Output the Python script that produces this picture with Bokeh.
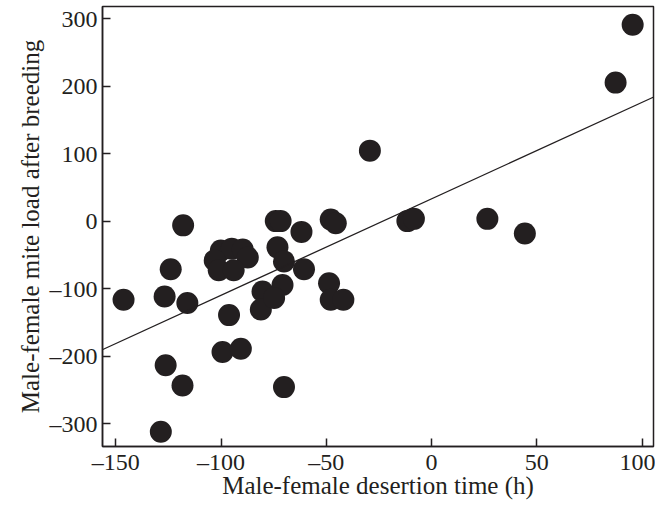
from bokeh.plotting import figure
from bokeh.models import Slope, FixedTicker, Range1d
from bokeh.embed import file_html
from bokeh.resources import INLINE

# Data
desertion_time = [95.5, 87.4, -29.3, 26.5, 44.3, -11.5, -8.4, -47.9, -45.5, -61.8,
                  -74.0, -71.7, -73.2, -70.1, -60.6, -118.0, -123.9, -126.8, -116.0, -146.3,
                  -96.2, -100.1, -94.9, -89.7, -87.3, -103.0, -101.1, -94.0,
                  -80.3, -81.1, -70.8, -74.8, -48.7, -47.9, -41.9,
                  -99.3, -90.6, -126.3, -118.3, -70.1, -128.6]
mite_load = [291.1, 205.2, 104.4, 3.3, -18.5, 0.0, 3.3, 2.5, -3.3, -16.0,
             0.0, 0.0, -38.9, -59.7, -71.3, -6.3, -71.3, -111.6, -121.3, -116.4,
             -139.3, -43.7, -40.8, -42.2, -53.9, -58.2, -72.8, -72.8,
             -104.4, -131.0, -94.6, -114.0, -92.1, -116.4, -116.4,
             -194.0, -189.2, -213.5, -243.5, -246.0, -312.0]

fit_gradient = 1.43
fit_intercept = 33.0

x_ticks = [-150, -100, -50, 0, 50, 100]
x_tick_labels = ["\u2013150", "\u2013100", "\u201350", "0", "50", "100"]
y_ticks = [-300, -200, -100, 0, 100, 200, 300]
y_tick_labels = ["\u2013300", "\u2013200", "\u2013100", "0", "100", "200", "300"]

INK = "#231f20"
FONT = "Liberation Serif"

p = figure(width=655, height=501, output_backend="svg", toolbar_location=None,
           x_range=Range1d(-156.3, 105.4), y_range=Range1d(-334, 318),
           min_border_left=102, min_border_right=2, min_border_top=6, min_border_bottom=46)

p.scatter(desertion_time, mite_load, size=22, fill_color=INK, line_color=INK, line_width=0)
p.add_layout(Slope(gradient=fit_gradient, y_intercept=fit_intercept, line_color=INK, line_width=1.3))

p.xgrid.visible = False
p.ygrid.visible = False
p.outline_line_color = INK
p.outline_line_width = 1.5

for ax, ticks, labels in ((p.xaxis[0], x_ticks, x_tick_labels), (p.yaxis[0], y_ticks, y_tick_labels)):
    ax.ticker = FixedTicker(ticks=ticks)
    ax.major_label_overrides = dict(zip(ticks, labels))
    ax.major_tick_in = 8
    ax.major_tick_out = 0
    ax.minor_tick_line_color = None
    ax.axis_line_color = INK
    ax.axis_line_width = 1.5
    ax.major_tick_line_color = INK
    ax.major_tick_line_width = 1.5
    ax.major_label_text_font = FONT
    ax.major_label_text_font_size = "24px"
    ax.major_label_text_color = INK
    ax.axis_label_text_font = FONT
    ax.axis_label_text_font_size = "25px"
    ax.axis_label_text_font_style = "normal"
    ax.axis_label_text_color = INK

p.xaxis.axis_label = "Male-female desertion time (h)"
p.yaxis.axis_label = "Male-female mite load after breeding"
p.xaxis.major_label_standoff = 2
p.xaxis.axis_label_standoff = -6
p.yaxis.major_label_standoff = 5
p.yaxis.axis_label_standoff = 3

open("out.html", "w").write(file_html(p, INLINE))
